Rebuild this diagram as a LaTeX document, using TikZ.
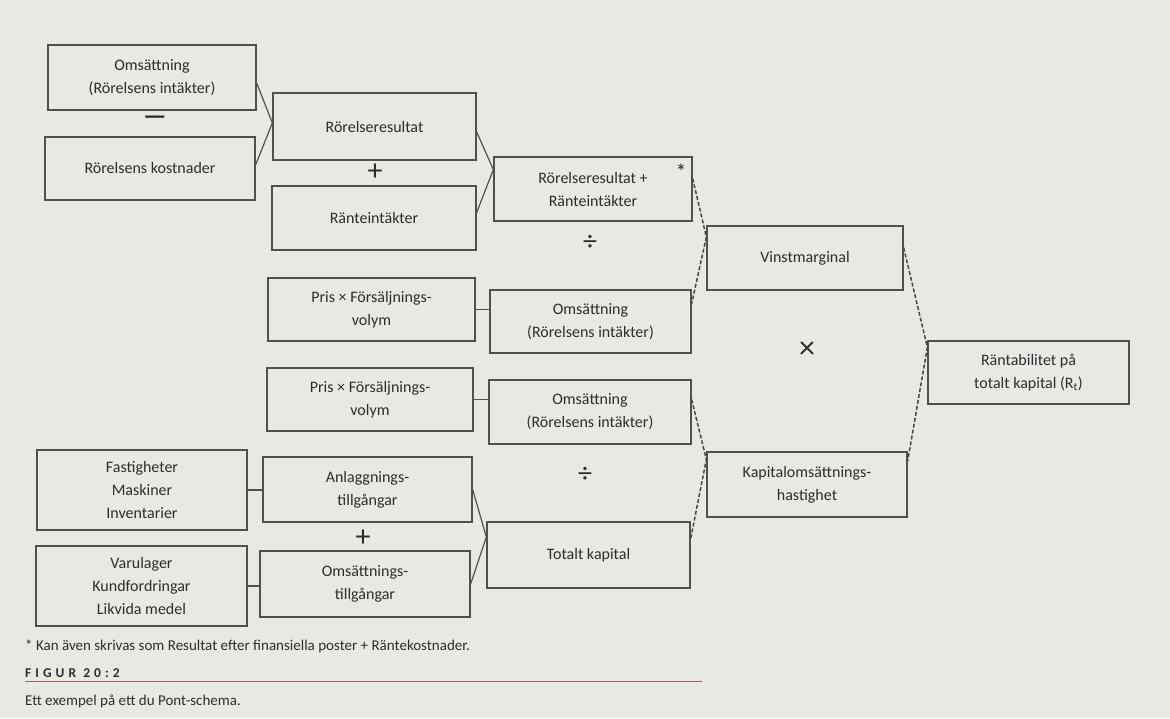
\documentclass[tikz,border=0pt]{standalone}
\usepackage{fontspec}
\setmainfont{Carlito}
\usetikzlibrary{calc}
\definecolor{bg}{RGB}{232,232,229}
\definecolor{ink}{RGB}{45,45,45}
\definecolor{edge}{RGB}{80,80,80}
\definecolor{rulecol}{RGB}{165,100,90}
\begin{document}
\begin{tikzpicture}[x=1pt,y=-1pt,
  box/.style={draw=edge, line width=1.3pt, inner sep=0pt, align=center, text=ink,
    font=\fontsize{16}{23}\selectfont},
  op/.style={text=ink, inner sep=0pt},
  link/.style={draw=edge, line width=1.2pt},
  dlink/.style={draw=edge!90!black, line width=1.5pt, dash pattern=on 4pt off 2pt}]
\fill[bg] (0,0) rectangle (1170,718);
\useasboundingbox (0,0) rectangle (1170,718);
% column A
\node[box, minimum width=208pt, minimum height=65pt] (A1) at (152,77.5) {Omsättning\\(Rörelsens intäkter)};
\node[box, minimum width=210pt, minimum height=63pt] (A2) at (150,168.5) {Rörelsens kostnader};
\node[box, minimum width=210pt, minimum height=80pt] (A3) at (142,490) {Fastigheter\\Maskiner\\Inventarier};
\node[box, minimum width=211pt, minimum height=80pt] (A4) at (141.5,586) {Varulager\\Kundfordringar\\Likvida medel};
% column B
\node[box, minimum width=203pt, minimum height=67pt] (B1) at (374.5,126.5) {Rörelseresultat};
\node[box, minimum width=204pt, minimum height=64pt] (B2) at (374,218) {Ränteintäkter};
\node[box, minimum width=207pt, minimum height=63pt] (P1) at (371.5,309.5) {Pris × Försäljnings-\\volym};
\node[box, minimum width=206pt, minimum height=63pt] (P2) at (370,399.5) {Pris × Försäljnings-\\volym};
\node[box, minimum width=209pt, minimum height=65pt] (B3) at (367.5,489.5) {Anlaggnings-\\tillgångar};
\node[box, minimum width=210pt, minimum height=66pt] (B4) at (365,584) {Omsättnings-\\tillgångar};
% column C
\node[box, minimum width=198pt, minimum height=64pt] (C1) at (593,189) {Rörelseresultat +\\Ränteintäkter};
\node[box, minimum width=201pt, minimum height=63pt] (C2) at (590.5,321.5) {Omsättning\\(Rörelsens intäkter)};
\node[box, minimum width=202pt, minimum height=64pt] (C3) at (590,412) {Omsättning\\(Rörelsens intäkter)};
\node[box, minimum width=203pt, minimum height=66pt] (C4) at (588.5,555) {Totalt kapital};
% column D
\node[box, minimum width=196pt, minimum height=64pt] (D1) at (805,258) {Vinstmarginal};
\node[box, minimum width=200pt, minimum height=65pt] (D2) at (807,484.5) {Kapitalomsättnings-\\hastighet};
% result
\node[box, minimum width=201pt, minimum height=63pt] (E) at (1028.5,372.5) {Räntabilitet på\\totalt kapital (R\textsubscript{t})};
% operators
\node[op, font=\fontsize{26}{26}\selectfont\bfseries] (o1) at (155,120) {—};
\node[op, font=\fontsize{30}{30}\selectfont] (o2) at (375,172) {+};
\node[op, font=\fontsize{28}{28}\selectfont] (o3) at (590,243) {÷};
\node[op, font=\fontsize{32}{32}\selectfont] (o4) at (807,350) {×};
\node[op, font=\fontsize{28}{28}\selectfont] (o5) at (585,475) {÷};
\node[op, font=\fontsize{30}{30}\selectfont] (o6) at (363,538) {+};
\node[op, font=\fontsize{22}{22}\selectfont] (star) at (681,172) {*};
% connectors
\draw[link] (A1.-3) -- (B1.178) -- (A2.2);
\draw[link] (B1.-3) -- (C1.169) -- (B2.3);
\draw[dlink] (C1.6) -- (D1.168) -- (C2.10);
\draw[dlink] (D1.6) -- (E.166) -- (D2.13);
\draw[dlink] (C3.7) -- (D2.166) -- (C4.9.5);
\draw[link] (B3.east) -- (C4.170.5) -- (B4.east);
\draw[link] (P1.east) -- (P1.east -| C2.west);
\draw[link] (P2.east) -- (P2.east -| C3.west);
\draw[link] (A3.east) -- (A3.east -| B3.west);
\draw[link] (A4.east) -- (A4.east -| B4.west);
% caption
\node[anchor=base west, inner sep=0pt, text=ink, font=\fontsize{15}{18}\selectfont] (note) at (25,650) {* Kan även skrivas som Resultat efter finansiella poster + Räntekostnader.};
\node[anchor=base west, inner sep=0pt, text=ink, font=\fontsize{13.5}{15}\selectfont\bfseries\addfontfeatures{LetterSpace=30}] (fig) at (25,677) {FIGUR 20:2};
\coordinate (ruleend) at (702,681);
\draw[rulecol, line width=0.9pt] (fig.south west |- ruleend) -- (ruleend);
\node[anchor=base west, inner sep=0pt, text=ink, font=\fontsize{15}{18}\selectfont] (cap) at (25,705) {Ett exempel på ett du Pont-schema.};
\end{tikzpicture}
\end{document}
